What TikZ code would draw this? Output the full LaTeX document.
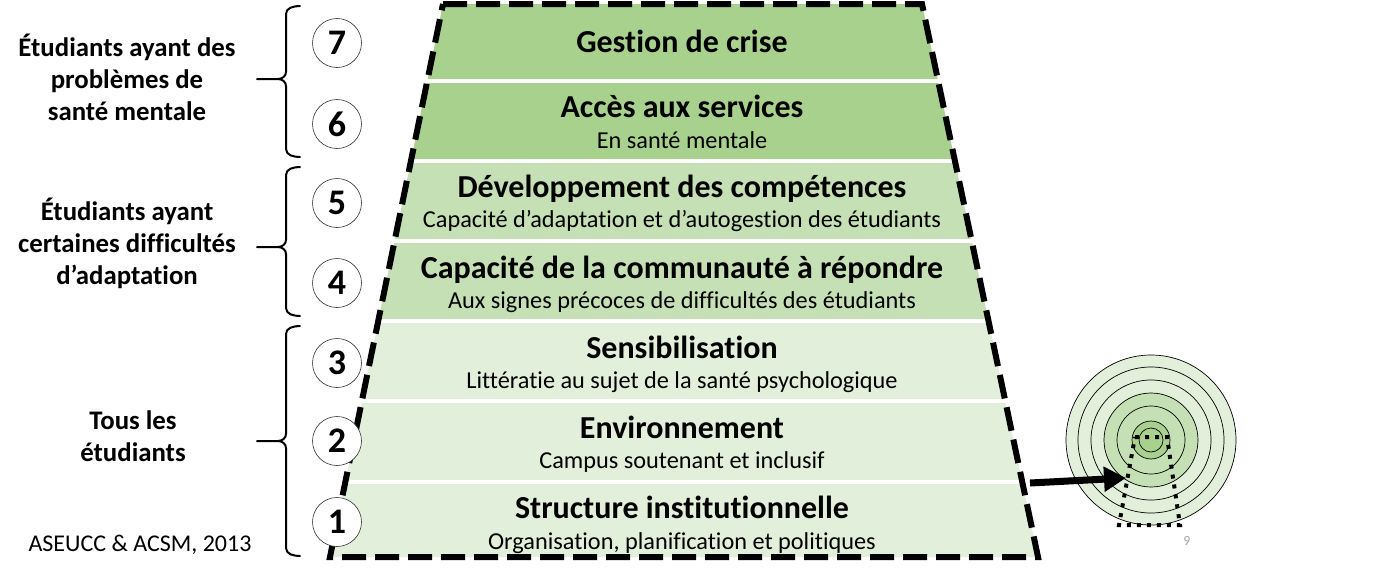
\documentclass[tikz,border=0pt]{standalone}
\usepackage{fontspec}
\setmainfont{Carlito}[Ligatures=NoCommon]
\usetikzlibrary{arrows.meta}
\definecolor{bandA}{HTML}{A9D18E}
\definecolor{bandB}{HTML}{C5E0B4}
\definecolor{bandC}{HTML}{E2EFDA}
\definecolor{pagenum}{HTML}{A6A6A6}

% left brace: top y, tip y, bottom y (pixel rows, measured downward)
\newcommand\grpbrace[3]{%
  \draw[bracepath] (300,-#1) to[out=180,in=90] (286,-#1-8) -- (286,-#2+7)
    to[out=-90,in=0] (278,-#2) -- (257,-#2);
  \draw[bracepath] (278,-#2) to[out=0,in=90] (286,-#2-7) -- (286,-#3+8)
    to[out=-90,in=180] (300,-#3);}

\begin{document}
\begin{tikzpicture}[x=1pt,y=1pt,
  title/.style={font=\fontsize{32}{36}\selectfont\bfseries, anchor=base, inner sep=0pt},
  sub/.style={font=\fontsize{24.3}{27}\selectfont, anchor=base, inner sep=0pt},
  grp/.style={font=\fontsize{26.8}{32}\selectfont\bfseries, align=center, inner sep=0pt},
  num/.style={circle, draw=black!80, line width=0.6pt, fill=white, minimum size=49pt,
    inner sep=0pt, font=\fontsize{36}{40}\selectfont\bfseries},
  bracepath/.style={line width=2pt, line join=round, line cap=round},
  border/.style={line width=6pt, dash pattern=on 24pt off 9pt},
  ring/.style={draw=black, line width=0.7pt},
  trail/.style={line width=4pt, dash pattern=on 4pt off 6pt},
]
\useasboundingbox (0,0) rectangle (1377,-574);

% corners of the pyramid
\coordinate (tl) at (443,-4);
\coordinate (tr) at (922,-4);
\coordinate (br) at (1038,-557);
\coordinate (bl) at (330,-557);

% coloured levels, separated by thin white gaps
\begin{scope}
  \clip (tl) -- (tr) -- (br) -- (bl) -- cycle;
  \fill[bandA] (300,-4)     rectangle (1100,-78.5);
  \fill[bandA] (300,-82.5)  rectangle (1100,-158.5);
  \fill[bandB] (300,-162.5) rectangle (1100,-239);
  \fill[bandB] (300,-243)   rectangle (1100,-319);
  \fill[bandC] (300,-323)   rectangle (1100,-399);
  \fill[bandC] (300,-403)   rectangle (1100,-479.5);
  \fill[bandC] (300,-483.5) rectangle (1100,-560);
\end{scope}
\draw[border] (tl) -- (tr) -- (br) -- (bl) -- cycle;

% level texts
\node[title] (t7) at (682,-52.5) {Gestion de crise};
\node[title] (t6) at (682,-117) {Accès aux services};
\node[sub]   (s6) at (682,-148) {En santé mentale};
\node[title] (t5) at (682,-197) {Développement des compétences};
\node[sub]   (s5) at (682,-227.5) {Capacité d’adaptation et d’autogestion des étudiants};
\node[title] (t4) at (682,-278) {Capacité de la communauté à répondre};
\node[sub]   (s4) at (682,-308) {Aux signes précoces de difficultés des étudiants};
\node[title] (t3) at (682,-358) {Sensibilisation};
\node[sub]   (s3) at (682,-388) {Littératie au sujet de la santé psychologique};
\node[title] (t2) at (682,-438) {Environnement};
\node[sub]   (s2) at (682,-468.5) {Campus soutenant et inclusif};
\node[title] (t1) at (682,-518) {Structure institutionnelle};
\node[sub]   (s1) at (682,-549) {Organisation, planification et politiques};

% level numbers
\node[num] (n7) at (337,-43) {7};
\node[num] (n6) at (337,-124) {6};
\node[num] (n5) at (337,-203) {5};
\node[num] (n4) at (337,-283) {4};
\node[num] (n3) at (337,-363) {3};
\node[num] (n2) at (337,-441) {2};
\node[num] (n1) at (337,-522) {1};

% target groups
\grpbrace{6}{79}{157}
\grpbrace{167}{247}{316}
\grpbrace{326}{441}{556}
\node[grp] (g1) at (127,-77) {Étudiants ayant des\\problèmes de\\santé mentale};
\node[grp] (g2) at (127,-243) {Étudiants ayant\\certaines difficultés\\d’adaptation};
\node[grp] (g3) at (133,-436) {Tous les\\étudiants};
\node[font=\fontsize{24}{27}\selectfont, inner sep=0pt] (src) at (140,-545) {ASEUCC \& ACSM, 2013};
\node[font=\fontsize{14}{16}\selectfont, text=pagenum, inner sep=0pt] (pg) at (1187,-541) {9};

% concentric target with the pyramid's trail
\node[circle, inner sep=0pt, minimum size=170pt] (target) at (1151,-440) {};
\foreach \r/\c in {85/bandC,73/bandC,60/bandC,47/bandB,34/bandB,19/bandA,12/bandA}
  \draw[ring, fill=\c] (target.center) circle (\r);
\draw[trail] (1135,-437) -- (1167,-437) -- (1180,-525) -- (1119,-525) -- cycle;

% arrow from the pyramid into the target
\coordinate (aS) at (1030,-483);
\coordinate (aE) at (1126,-478);
\draw[line width=7pt, -{Triangle[length=22pt,width=24pt]}] (aS) -- (aE);
\end{tikzpicture}
\end{document}
